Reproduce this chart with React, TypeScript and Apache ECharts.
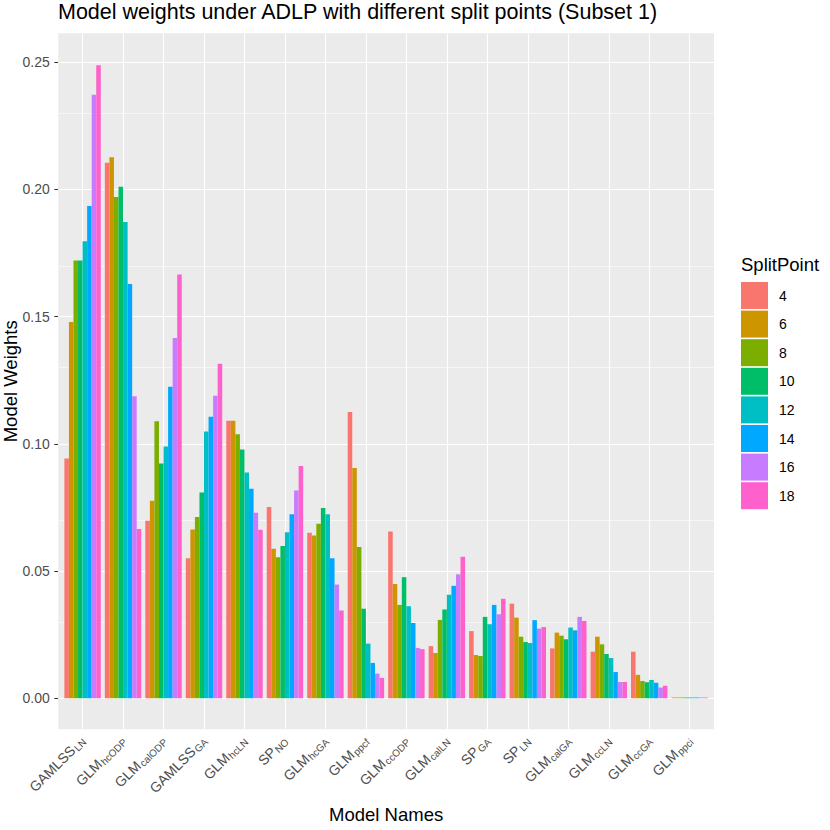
import React, { useEffect, useRef } from "react";
import * as echarts from "echarts";

const modelBases = ["GAMLSS", "GLM", "GLM", "GAMLSS", "GLM", "SP", "GLM", "GLM", "GLM", "GLM", "SP", "SP", "GLM", "GLM", "GLM", "GLM"];
const modelSubs = ["LN", "hcODP", "calODP", "GA", "hcLN", "NO", "hcGA", "ppcf", "ccODP", "calLN", "GA", "LN", "calGA", "ccLN", "ccGA", "ppci"];
const categories = modelBases.map((b, i) => `${b}_${modelSubs[i]}`);

const splitPoints = ["4", "6", "8", "10", "12", "14", "16", "18"];
const splitColors = ["#F8766D", "#CD9600", "#7CAE00", "#00BE67", "#00BFC4", "#00A9FF", "#C77CFF", "#FF61CC"];

const w4 = [0.0943, 0.2105, 0.0698, 0.0550, 0.1091, 0.0752, 0.0651, 0.1125, 0.0656, 0.0205, 0.0264, 0.0372, 0.0196, 0.0183, 0.0183, 0.0003];
const w6 = [0.1479, 0.2127, 0.0776, 0.0663, 0.1091, 0.0588, 0.0640, 0.0905, 0.0449, 0.0178, 0.0170, 0.0317, 0.0258, 0.0242, 0.0092, 0.0003];
const w8 = [0.1721, 0.1970, 0.1089, 0.0713, 0.1038, 0.0554, 0.0686, 0.0595, 0.0367, 0.0308, 0.0166, 0.0242, 0.0246, 0.0212, 0.0068, 0.0003];
const w10 = [0.1721, 0.2011, 0.0923, 0.0809, 0.0978, 0.0599, 0.0748, 0.0352, 0.0476, 0.0349, 0.0320, 0.0221, 0.0232, 0.0174, 0.0063, 0.0003];
const w12 = [0.1797, 0.1872, 0.0990, 0.1049, 0.0887, 0.0653, 0.0723, 0.0215, 0.0362, 0.0407, 0.0291, 0.0217, 0.0278, 0.0158, 0.0072, 0.0003];
const w14 = [0.1935, 0.1628, 0.1225, 0.1107, 0.0824, 0.0723, 0.0550, 0.0139, 0.0296, 0.0442, 0.0367, 0.0307, 0.0267, 0.0103, 0.0061, 0.0003];
const w16 = [0.2372, 0.1187, 0.1416, 0.1189, 0.0729, 0.0817, 0.0447, 0.0097, 0.0198, 0.0487, 0.0330, 0.0274, 0.0320, 0.0064, 0.0042, 0.0003];
const w18 = [0.2488, 0.0665, 0.1666, 0.1315, 0.0662, 0.0913, 0.0345, 0.0080, 0.0193, 0.0556, 0.0391, 0.0280, 0.0304, 0.0064, 0.0049, 0.0003];
const weightSeries = [w4, w6, w8, w10, w12, w14, w16, w18];

const yMajorTicks = [0, 0.05, 0.1, 0.15, 0.2, 0.25];
const yMinorTicks = [0.025, 0.075, 0.125, 0.175, 0.225];
const Y_MIN = -0.0122;
const Y_MAX = 0.2614;

const FONT = "Liberation Sans, Arial, Helvetica, sans-serif";

// panel geometry (ggplot discrete expansion of 0.6 category units on each side)
const PANEL_LEFT = 58.3;
const PANEL_TOP = 33.3;
const PANEL_W = 655.7;
const PANEL_H = 696;
const UNIT = PANEL_W / (categories.length + 0.2);

export default function App() {
  const ref = useRef<HTMLDivElement>(null);
  useEffect(() => {
    if (!ref.current) return;
    const chart = echarts.init(ref.current, null, { renderer: "svg" });
    const hLines = [
      ...yMajorTicks.map((v) => ({ yAxis: v, lineStyle: { width: 1.1, color: "#FFFFFF", type: "solid" } })),
      ...yMinorTicks.map((v) => ({ yAxis: v, lineStyle: { width: 0.55, color: "#FFFFFF", type: "solid" } })),
    ];
    const vLines = categories.map((c) => ({ xAxis: c, lineStyle: { width: 1.1, color: "#FFFFFF", type: "solid" } }));
    const option: any = {
      animation: false,
      backgroundColor: "#FFFFFF",
      textStyle: { fontFamily: FONT },
      title: [
        {
          text: "Model weights under ADLP with different split points (Subset 1)",
          left: 58,
          top: 1,
          padding: 0,
          textStyle: { fontSize: 21.5, fontWeight: "normal", color: "#000000", fontFamily: FONT },
        },
        {
          text: "SplitPoint",
          left: 741,
          top: 255,
          padding: 0,
          textStyle: { fontSize: 18.5, fontWeight: "normal", color: "#000000", fontFamily: FONT },
        },
      ],
      legend: {
        data: splitPoints,
        orient: "vertical",
        left: 741,
        top: 282,
        padding: 0,
        itemWidth: 27,
        itemHeight: 27,
        itemGap: 1.6,
        icon: "rect",
        textStyle: { fontSize: 14, color: "#000000", fontFamily: FONT, padding: [0, 0, 0, 6] },
      },
      grid: [
        {
          left: PANEL_LEFT + 0.1 * UNIT,
          top: PANEL_TOP,
          width: UNIT * categories.length,
          height: PANEL_H,
          show: false,
          containLabel: false,
          outerBoundsMode: "none",
        },
        {
          left: PANEL_LEFT,
          top: PANEL_TOP,
          width: PANEL_W,
          height: PANEL_H,
          show: true,
          backgroundColor: "#EBEBEB",
          borderWidth: 0,
          containLabel: false,
          outerBoundsMode: "none",
        },
      ],
      xAxis: [
        {
          type: "category",
          gridIndex: 0,
          data: categories,
          name: "Model Names",
          nameLocation: "middle",
          nameGap: 76,
          nameMoveOverlap: false,
          nameTextStyle: { fontSize: 18.5, color: "#000000", fontFamily: FONT },
          axisLine: { show: false },
          axisTick: { show: true, alignWithLabel: true, length: 4, lineStyle: { color: "#333333", width: 1 } },
          splitLine: { show: false },
          axisLabel: {
            interval: 0,
            rotate: 45,
            margin: 9,
            formatter: (_v: string, i: number) => `{m|${modelBases[i]}}{s|${modelSubs[i]}}`,
            rich: {
              m: { fontSize: 14, color: "#4D4D4D", fontFamily: FONT, lineHeight: 16 },
              s: { fontSize: 10, color: "#4D4D4D", fontFamily: FONT, verticalAlign: "bottom", lineHeight: 10, padding: [0, 0, 0, 1] },
            },
          },
        },
        {
          type: "value",
          gridIndex: 1,
          min: 0,
          max: 1,
          show: false,
        },
      ],
      yAxis: [
        {
          type: "value",
          gridIndex: 0,
          min: Y_MIN,
          max: Y_MAX,
          show: false,
          splitLine: { show: false },
        },
        {
          type: "value",
          gridIndex: 1,
          min: Y_MIN,
          max: Y_MAX,
          name: "Model Weights",
          nameLocation: "middle",
          nameRotate: 90,
          nameGap: 39,
          nameMoveOverlap: false,
          nameTextStyle: { fontSize: 18.5, lineHeight: 18, color: "#000000", fontFamily: FONT },
          axisLine: { show: false },
          axisTick: { show: true, length: 4, customValues: yMajorTicks, lineStyle: { color: "#333333", width: 1 } },
          splitLine: { show: false },
          axisLabel: {
            customValues: yMajorTicks,
            margin: 8.5,
            fontSize: 14,
            color: "#4D4D4D",
            fontFamily: FONT,
            formatter: (v: number) => v.toFixed(2),
          },
        },
      ],
      series: [
        {
          type: "line",
          name: "__hgrid",
          xAxisIndex: 1,
          yAxisIndex: 1,
          data: [],
          silent: true,
          z: 1,
          markLine: {
            silent: true,
            symbol: "none",
            animation: false,
            z: 1,
            label: { show: false },
            emphasis: { disabled: true },
            data: hLines,
          },
        },
        {
          type: "line",
          name: "__vgrid",
          xAxisIndex: 0,
          yAxisIndex: 0,
          data: [],
          silent: true,
          z: 1,
          markLine: {
            silent: true,
            symbol: "none",
            animation: false,
            z: 1,
            label: { show: false },
            emphasis: { disabled: true },
            data: vLines,
          },
        },
        ...splitPoints.map((sp, k) => ({
          type: "bar",
          name: sp,
          xAxisIndex: 0,
          yAxisIndex: 0,
          data: weightSeries[k],
          z: 2,
          barGap: "0%",
          barCategoryGap: "10%",
          itemStyle: { color: splitColors[k] },
        })),
      ],
    };
    chart.setOption(option);
    return () => chart.dispose();
  }, []);
  return <div ref={ref} style={{ position: "fixed", left: 0, top: 0, width: 830, height: 830 }} />;
}
